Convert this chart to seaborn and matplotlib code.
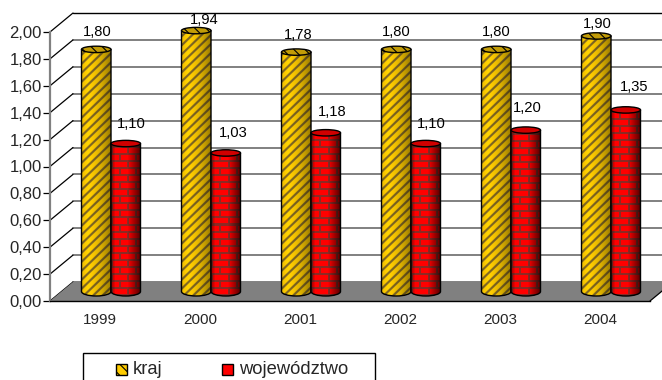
import numpy as np
import pandas as pd
import matplotlib
matplotlib.use('Agg')
import matplotlib.pyplot as plt
from matplotlib.patches import Ellipse, PathPatch, Polygon, Rectangle
from matplotlib.path import Path
from matplotlib.transforms import Affine2D
import seaborn as sns

years = ['1999', '2000', '2001', '2002', '2003', '2004']
kraj = [1.80, 1.94, 1.78, 1.80, 1.80, 1.90]
wojewodztwo = [1.10, 1.03, 1.18, 1.10, 1.20, 1.35]
series_names = ['kraj', 'województwo']
y_ticks = [0.0, 0.2, 0.4, 0.6, 0.8, 1.0, 1.2, 1.4, 1.6, 1.8, 2.0]

# small nudges of the value labels, in pixels (right, up)
kraj_nudge = [(1, 17), (8, 11), (2, 17), (0, 17), (0, 17), (1, 12)]
woj_nudge = [(6, 20), (8, 20), (6, 21), (6, 20), (2, 22), (8, 23)]

W, H = 662, 380
sns.set_style('white')
plt.rcParams['font.family'] = ['Liberation Sans', 'DejaVu Sans']
plt.rcParams['hatch.linewidth'] = 0.8
plt.rcParams['hatch.color'] = '#6e5a10'

fig = plt.figure(figsize=(W / 100, H / 100), dpi=100)
ax = fig.add_axes([50 / W, (H - 301) / H, 600 / W, 269 / H])

df = pd.DataFrame({
    'rok': years * 2,
    'seria': [series_names[0]] * 6 + [series_names[1]] * 6,
    'wartosc': kraj + wojewodztwo,
})
sns.barplot(data=df, x='rok', y='wartosc', hue='seria', palette=['#ffcc00', '#ff0000'],
            width=0.59, gap=0, saturation=1, legend=False, ax=ax)
ax.set_xlim(-0.5, 5.5)
ax.set_ylim(0, 2)
ax.set_xlabel('')
ax.set_ylabel('')

# px -> data sizes
px_x = 6.0 / 600
px_y = 2.0 / 269
back = (23, 19)
mid = (11, 9.5)
backT = ax.transData + Affine2D().translate(*back)
midT = ax.transData + Affine2D().translate(*mid)


def gold_texture(w, h):
    # 4x finer than a pixel so the stripes come out soft
    yy, xx = np.mgrid[0:h * 4, 0:w * 4] / 4.0
    t = ((xx - yy) % 9) / 9.0
    img = np.zeros(t.shape + (3,))
    img[:] = np.array([255, 204, 0]) / 255
    img[t < 0.33] = np.array([125, 100, 35]) / 255
    u = xx / w
    shade = np.interp(u, [0, 0.2, 0.65, 1], [0.92, 1.05, 0.85, 0.58])
    return np.clip(img * shade[..., None], 0, 1)


def brick_texture(w, h):
    yy, xx = np.mgrid[0:h, 0:w]
    img = np.zeros((h, w, 3))
    img[:] = np.array([255, 0, 0]) / 255
    row = yy // 7
    offs = (row % 2) * 8
    mortar = (yy % 7 < 2) | ((xx + offs) % 16 < 2)
    img[mortar] = np.array([140, 42, 36]) / 255
    u = (xx + 0.5) / w
    shade = np.interp(u, [0, 0.15, 0.55, 1], [0.55, 1.0, 1.0, 0.3])
    return np.clip(img * shade[..., None], 0, 1)


# back wall grid
for v in y_ticks:
    col = 'black' if v == y_ticks[-1] else '#808080'
    lw = 1.0 if v == y_ticks[-1] else 1.4
    ax.plot([-0.5, 5.75], [v, v], color=col, lw=lw, transform=backT, clip_on=False, zorder=1)
    ax.plot([-0.5, -0.5 + back[0] * px_x], [v, v + back[1] * px_y], color='black', lw=0.9,
            clip_on=False, zorder=1)

# floor
floor = Polygon([(-0.5, 0), (-0.5 + back[0] * px_x, back[1] * px_y),
                 (5.5 + back[0] * px_x, back[1] * px_y), (5.5, 0)],
                closed=True, facecolor='#808080', edgecolor='none', clip_on=False, zorder=1.5)
ax.add_patch(floor)
ax.plot([5.5, 5.5 + back[0] * px_x], [0, back[1] * px_y], color='black', lw=0.9, clip_on=False, zorder=1.6)

# cylinders out of the seaborn bars
n_years = len(years)
for s, cont in enumerate(ax.containers):
    for i, bar in enumerate(cont):
        x0, wd, top = bar.get_x(), bar.get_width(), bar.get_height()
        bar.set_visible(False)
        xc = x0 + wd / 2
        ey_top = 3.2 * px_y
        ey_bot = 4.5 * px_y
        k = 0.5523
        rx = wd / 2
        verts = [(x0, top), (x0, 0),
                 (x0, -k * ey_bot), (xc - k * rx, -ey_bot), (xc, -ey_bot),
                 (xc + k * rx, -ey_bot), (x0 + wd, -k * ey_bot), (x0 + wd, 0),
                 (x0 + wd, top), (x0, top)]
        codes = [Path.MOVETO, Path.LINETO,
                 Path.CURVE4, Path.CURVE4, Path.CURVE4,
                 Path.CURVE4, Path.CURVE4, Path.CURVE4,
                 Path.LINETO, Path.CLOSEPOLY]
        body = PathPatch(Path(verts, codes), facecolor='none', edgecolor='black', lw=1.0,
                         transform=midT, clip_on=False, zorder=3 + s)
        ax.add_patch(body)
        w_px = int(round(wd / px_x))
        h_px = int(round((top + ey_bot) / px_y))
        tex = gold_texture(w_px, h_px) if s == 0 else brick_texture(w_px, h_px)
        im = ax.imshow(tex, extent=[x0, x0 + wd, -ey_bot, top], origin='lower', aspect='auto',
                       transform=midT, interpolation='antialiased' if s == 0 else 'nearest',
                       zorder=2.9 + s)
        im.set_clip_path(body)
        topcol = '#c29c08' if s == 0 else '#d00000'
        hatch = '\\\\\\' if s == 0 else None
        el = Ellipse((xc, top), wd, 2 * ey_top, facecolor=topcol, edgecolor='black', lw=1.0,
                     hatch=hatch, transform=midT, clip_on=False, zorder=3.1 + s)
        ax.add_patch(el)
        val = (kraj if s == 0 else wojewodztwo)[i]
        nudge = (kraj_nudge if s == 0 else woj_nudge)[i]
        ax.annotate(('%.2f' % val).replace('.', ','), xy=(xc, top), xycoords=midT,
                    xytext=nudge, textcoords='offset pixels', ha='center', va='center',
                    fontsize=10.6, color='black', zorder=8)

ax.set_xlim(-0.5, 5.5)
ax.set_ylim(0, 2)

sns.despine(ax=ax, top=True, right=True)
ax.patch.set_alpha(0)
ax.spines['left'].set_color('#808080')
ax.spines['left'].set_linewidth(1.6)
ax.spines['bottom'].set_color('black')
ax.spines['bottom'].set_linewidth(1.0)
ax.spines['left'].set_zorder(2)
ax.spines['bottom'].set_zorder(2)
ax.set_yticks(y_ticks)
ax.set_yticklabels([('%.2f' % v).replace('.', ',') for v in y_ticks], fontsize=12)
ax.set_xticks(np.arange(n_years))
ax.set_xticklabels(years, fontsize=11)
ax.set_xticks(np.arange(-0.5, n_years), minor=True)
ax.tick_params(axis='x', which='major', length=0, pad=9)
ax.tick_params(axis='x', which='minor', length=5, width=0.9, color='black', direction='out')
ax.tick_params(axis='y', length=5, width=0.9, color='black', pad=1, left=True)
ax.grid(False)

# legend box runs off the bottom edge of the picture
def fx(p):
    return p / W
def fy(p):
    return 1 - p / H
fig.add_artist(Rectangle((fx(83), fy(392)), 292 / W, 39 / H, transform=fig.transFigure,
                         facecolor='white', edgecolor='black', lw=1.0))
fig.add_artist(Rectangle((fx(116), fy(375)), 11 / W, 11 / H, transform=fig.transFigure,
                         facecolor='#ffcc00', edgecolor='black', lw=1.0, hatch='\\\\\\'))
fig.add_artist(Rectangle((fx(222), fy(375)), 11 / W, 11 / H, transform=fig.transFigure,
                         facecolor='#ff0000', edgecolor='black', lw=1.0))
fig.text(fx(132.5), fy(369.5), series_names[0], fontsize=13.2, va='center', ha='left')
fig.text(fx(239), fy(369.5), series_names[1], fontsize=13.2, va='center', ha='left')

fig.savefig('out.png', dpi=100)
